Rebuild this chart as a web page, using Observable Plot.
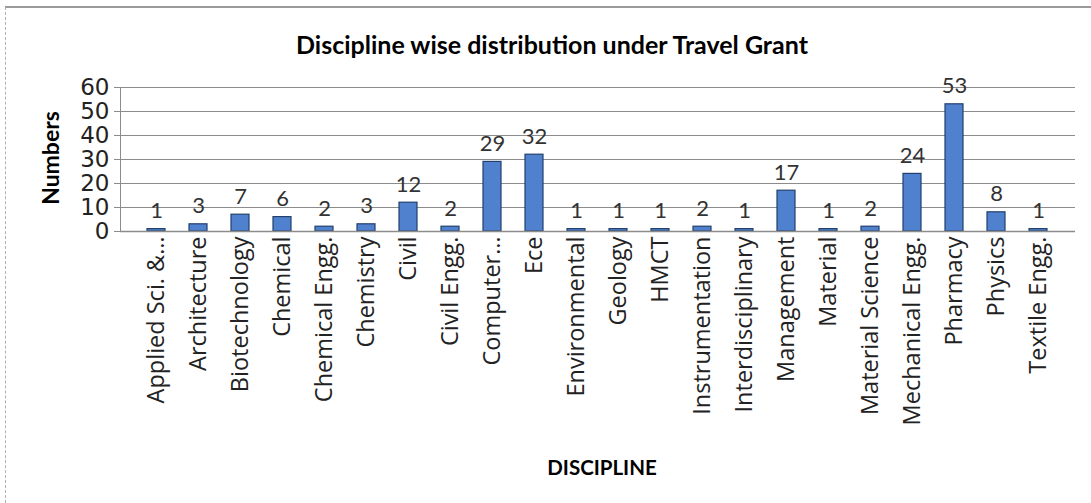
<!DOCTYPE html>
<html>
<head>
<meta charset="utf-8">
<script src="https://cdn.jsdelivr.net/npm/d3@7"></script>
<script src="https://cdn.jsdelivr.net/npm/@observablehq/plot@0.6"></script>
<style>
  html, body { margin: 0; padding: 0; background: #fff; }
  #wrap { position: relative; width: 1091px; height: 503px; overflow: hidden; font-family: Lato, "Open Sans", sans-serif; }
  #wrap svg { position: absolute; left: 0; top: 0; }
  .lbl { position: absolute; font-weight: bold; color: #000; white-space: nowrap; line-height: 1; }
  #title { left: 552px; top: 44px; font-size: 25px; transform: translate(-50%, -50%); }
  #ytitle { left: 50px; top: 158px; font-size: 23px; transform: translate(-50%, -50%) rotate(-90deg); }
  #xtitle { left: 602px; top: 467px; font-size: 20.5px; transform: translate(-50%, -50%); }
  #btop { position: absolute; left: 5px; top: 6px; width: 1086px; height: 0; border-top: 2px solid #9a9a9a; }
  #bleft { position: absolute; left: 5px; top: 7px; width: 0; height: 496px; border-left: 1px dashed #b0b0b0; }
</style>
</head>
<body>
<div id="wrap">
  <div id="btop"></div>
  <div id="bleft"></div>
  <div id="title" class="lbl">Discipline wise distribution under Travel Grant</div>
  <div id="ytitle" class="lbl">Numbers</div>
  <div id="xtitle" class="lbl">DISCIPLINE</div>
</div>
<script>
const disciplines = [
  "Applied Sci. &…", "Architecture", "Biotechnology", "Chemical", "Chemical Engg.",
  "Chemistry", "Civil", "Civil Engg.", "Computer…", "Ece", "Environmental",
  "Geology", "HMCT", "Instrumentation", "Interdisciplinary", "Management",
  "Material", "Material Science", "Mechanical Engg.", "Pharmacy", "Physics", "Textile Engg."
];
const numbers = [1, 3, 7, 6, 2, 3, 12, 2, 29, 32, 1, 1, 1, 2, 1, 17, 1, 2, 24, 53, 8, 1];
const yTicks = [0, 10, 20, 30, 40, 50, 60];

const data = disciplines.map((d, i) => ({discipline: d, value: numbers[i]}));

const chart = Plot.plot({
  width: 1091,
  height: 503,
  marginLeft: 120,
  marginRight: 16,
  marginTop: 87,
  marginBottom: 272,
  style: {fontFamily: "Lato, 'Open Sans', sans-serif", background: "transparent", color: "#222"},
  x: {type: "band", domain: disciplines, padding: 0.56, label: null},
  y: {domain: [0, 60], label: null},
  marks: [
    Plot.gridY(yTicks, {stroke: "#8c8c8c", strokeOpacity: 1, strokeWidth: 1}),
    Plot.frame({anchor: "left", stroke: "#8c8c8c"}),
    Plot.axisY({ticks: yTicks, tickSize: 6, tickPadding: 5, fontSize: 23, fontFamily: "'DejaVu Sans', sans-serif", stroke: "#8c8c8c", label: null, fill: "#222"}),
    Plot.axisX({tickRotate: -90, tickSize: 0, tickPadding: 5, fontSize: 23.5, fontFamily: "'Open Sans', sans-serif", label: null, fill: "#222"}),
    Plot.barY(data, {x: "discipline", y: "value", fill: "#4f81cf", stroke: "#22406b", strokeWidth: 1.2}),
    Plot.ruleY([0], {stroke: "#8c8c8c", strokeWidth: 1.5}),
    Plot.text(data, {x: "discipline", y: "value", text: d => String(d.value), lineAnchor: "bottom", dy: -11, fontSize: 22, fill: "#333"})
  ]
});
document.getElementById("wrap").appendChild(chart);
</script>
</body>
</html>
